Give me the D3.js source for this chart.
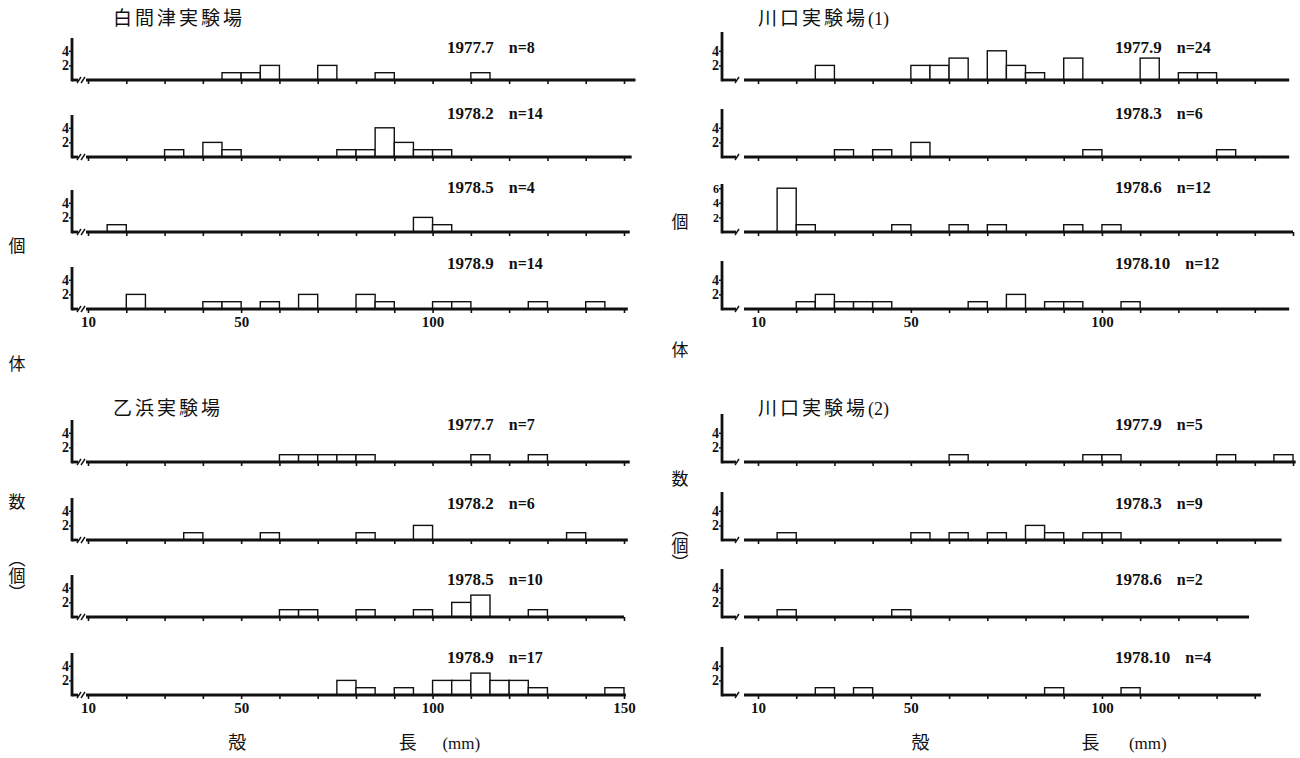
<!DOCTYPE html>
<html>
<head>
<meta charset="utf-8">
<script src="https://cdn.jsdelivr.net/npm/d3@7"></script>
<style>
  body { margin: 0; background: #fff; }
  svg { display: block; }
</style>
</head>
<body>
<svg id="chart" width="1300" height="758"></svg>
<script>
// shell length frequency, 5 mm classes: [class start (mm), count]
const datesA = ["1977.7", "1978.2", "1978.5", "1978.9"];
const datesB = ["1977.9", "1978.3", "1978.6", "1978.10"];

const shiramazu = [
  [[45,1],[50,1],[55,2],[70,2],[85,1],[110,1]],
  [[30,1],[40,2],[45,1],[75,1],[80,1],[85,4],[90,2],[95,1],[100,1]],
  [[15,1],[95,2],[100,1]],
  [[20,2],[40,1],[45,1],[55,1],[65,2],[80,2],[85,1],[100,1],[105,1],[125,1],[140,1]]
];
const otsuhama = [
  [[60,1],[65,1],[70,1],[75,1],[80,1],[110,1],[125,1]],
  [[35,1],[55,1],[80,1],[95,2],[135,1]],
  [[60,1],[65,1],[80,1],[95,1],[105,2],[110,3],[125,1]],
  [[75,2],[80,1],[90,1],[100,2],[105,2],[110,3],[115,2],[120,2],[125,1],[145,1]]
];
const kawaguchi1 = [
  [[25,2],[50,2],[55,2],[60,3],[70,4],[75,2],[80,1],[90,3],[110,3],[120,1],[125,1]],
  [[30,1],[40,1],[50,2],[95,1],[130,1]],
  [[15,6],[20,1],[45,1],[60,1],[70,1],[90,1],[100,1]],
  [[20,1],[25,2],[30,1],[35,1],[40,1],[65,1],[75,2],[85,1],[90,1],[105,1]]
];
const kawaguchi2 = [
  [[60,1],[95,1],[100,1],[130,1],[145,1]],
  [[15,1],[50,1],[60,1],[70,1],[80,2],[85,1],[95,1],[100,1]],
  [[15,1],[45,1]],
  [[25,1],[35,1],[85,1],[105,1]]
];

const xLabelsShiramazu = [10, 50, 100];
const xLabelsOtsuhama = [10, 50, 100, 150];
const xLabelsKawaguchi1 = [10, 50, 100];
const xLabelsKawaguchi2 = [10, 50, 100];
const sideLabel = ["個", "体", "数", "（個）"];

const serif = "'Liberation Serif','DejaVu Serif',serif";
const jp = "'Noto Sans CJK JP',sans-serif";
const ink = "#111";

// page layout
const cols = [
  {xr: [88, 624], yAxisX: 72, axisStart: 86, slashes: [79, 83], titleX: 113, dateX: 447,
   sideX: 17, sideYs: [246, 364, 502, 576], axisH: 42, mmLab: [49, 93.5, 107.5]},
  {xr: [758, 1293], yAxisX: 722, axisStart: 744, slashes: [737], titleX: 758, dateX: 1115,
   sideX: 680, sideYs: [222, 350, 479, 546], axisH: 48, mmLab: [52.5, 97, 112]}
];
const rows = [
  {titleY: 18, bases: [80, 157, 232, 309], labelOff: [33, 44, 45, 46]},
  {titleY: 408, bases: [462, 540, 617, 695], labelOff: [38, 37, 38, 38]}
];

const groups = [
  {title: ["白間津実験場", ""], dates: datesA, series: shiramazu, xLabels: xLabelsShiramazu, col: 0, row: 0, ends: [153, 152, 151.5, 151]},
  {title: ["乙浜実験場", ""], dates: datesA, series: otsuhama, xLabels: xLabelsOtsuhama, col: 0, row: 1, ends: [151.5, 151, 150, 150.5]},
  {title: ["川口実験場", "(1)"], dates: datesB, series: kawaguchi1, xLabels: xLabelsKawaguchi1, col: 1, row: 0, ends: [149, 149, 150, 149]},
  {title: ["川口実験場", "(2)"], dates: datesB, series: kawaguchi2, xLabels: xLabelsKawaguchi2, col: 1, row: 1, ends: [150.7, 147, 138.5, 141.6]}
];

const svg = d3.select("#chart");
svg.append("rect").attr("width", 1300).attr("height", 758).attr("fill", "#fff");

groups.forEach(g => {
  const c = cols[g.col], r = rows[g.row];
  const x = d3.scaleLinear().domain([10, 150]).range(c.xr);
  const root = svg.append("g");

  const tt = root.append("text")
    .attr("x", c.titleX).attr("y", r.titleY + 7)
    .attr("font-family", jp).attr("font-size", 19).attr("fill", ink);
  tt.append("tspan").attr("letter-spacing", 3).text(g.title[0]);
  tt.append("tspan").attr("font-family", serif).attr("font-size", 18).text(g.title[1]);

  g.series.forEach((s, i) => {
    const b = r.bases[i];
    const y = d3.scaleLinear().domain([0, 1]).range([b, b - 7.3]);
    const p = root.append("g");
    const last = i === g.series.length - 1;

    // bars
    p.selectAll("rect").data(s).join("rect")
      .attr("x", d => x(d[0]))
      .attr("width", d => x(d[0] + 5) - x(d[0]))
      .attr("y", d => y(d[1]))
      .attr("height", d => b - y(d[1]))
      .attr("fill", "#fff").attr("stroke", ink).attr("stroke-width", 1.4);

    // x axis
    const end = g.ends[i];
    const ax = d3.axisBottom(x)
      .tickValues(d3.range(10, end + 0.01, 10))
      .tickSize(4)
      .tickFormat(d => last && g.xLabels.includes(d) ? d : "");
    const axG = p.append("g").attr("transform", `translate(0,${b})`).call(ax);
    axG.select(".domain").remove();
    axG.selectAll("line").attr("stroke", ink).attr("stroke-width", 1.6);
    axG.selectAll("text")
      .attr("font-family", serif).attr("font-weight", "bold")
      .attr("font-size", 15).attr("fill", ink).attr("y", 7);
    p.append("line")
      .attr("x1", c.axisStart).attr("x2", x(end))
      .attr("y1", b).attr("y2", b)
      .attr("stroke", ink).attr("stroke-width", 2.8);

    // axis break
    p.append("line")
      .attr("x1", c.yAxisX).attr("x2", c.slashes[0] - 1)
      .attr("y1", b).attr("y2", b)
      .attr("stroke", ink).attr("stroke-width", 2.8);
    c.slashes.forEach(sx => {
      p.append("line")
        .attr("x1", sx - 2).attr("y1", b + 3)
        .attr("x2", sx + 2).attr("y2", b - 3)
        .attr("stroke", ink).attr("stroke-width", 1.4);
    });

    // y axis
    const maxC = d3.max(s, d => d[1]);
    const yTicks = d3.range(2, Math.max(4, maxC) + 1, 2);
    const ay = d3.axisLeft(y).tickValues(yTicks).tickSize(3).tickFormat(d3.format("d"));
    const ayG = p.append("g").attr("transform", `translate(${c.yAxisX},0)`).call(ay);
    ayG.select(".domain").remove();
    ayG.selectAll("line").attr("stroke", ink).attr("stroke-width", 1.4);
    ayG.selectAll("text")
      .attr("font-family", serif).attr("font-weight", "bold")
      .attr("font-size", maxC > 4 ? 12 : 14).attr("fill", ink).attr("x", -3);
    p.append("line")
      .attr("x1", c.yAxisX).attr("x2", c.yAxisX)
      .attr("y1", b + 1.4).attr("y2", b - c.axisH)
      .attr("stroke", ink).attr("stroke-width", 2.8);

    // sample label
    const ly = b - r.labelOff[i] + 6;
    const dt = p.append("text")
      .attr("x", c.dateX).attr("y", ly)
      .attr("font-family", serif).attr("font-weight", "bold")
      .attr("font-size", 17).attr("fill", ink)
      .text(g.dates[i]);
    const w = dt.node().getComputedTextLength();
    p.append("text")
      .attr("x", c.dateX + w + 15).attr("y", ly)
      .attr("font-family", serif).attr("font-weight", "bold")
      .attr("font-size", 16).attr("fill", ink)
      .text("n=" + d3.sum(s, d => d[1]));

    // x axis title under the last panel of the bottom group
    if (last && g.row === 1) {
      const ty = b + 54;
      [["殻", c.mmLab[0]], ["長", c.mmLab[1]]].forEach(([t, v]) => {
        root.append("text").attr("x", x(v)).attr("y", ty)
          .attr("text-anchor", "middle")
          .attr("font-family", jp).attr("font-size", 18).attr("fill", ink)
          .text(t);
      });
      root.append("text").attr("x", x(c.mmLab[2])).attr("y", ty)
        .attr("text-anchor", "middle")
        .attr("font-family", serif).attr("font-size", 17).attr("fill", ink)
        .text("(mm)");
    }
  });
});

// vertical y title: 個 体 数 (個), set in vertical writing mode
cols.forEach(c => {
  const side = svg.append("g").attr("font-family", jp).attr("font-size", 17).attr("fill", ink);
  sideLabel.forEach((t, k) => {
    side.append("text")
      .attr("x", c.sideX).attr("y", c.sideYs[k])
      .attr("text-anchor", "middle")
      .style("writing-mode", "vertical-rl")
      .text(t);
  });
});
</script>
</body>
</html>
